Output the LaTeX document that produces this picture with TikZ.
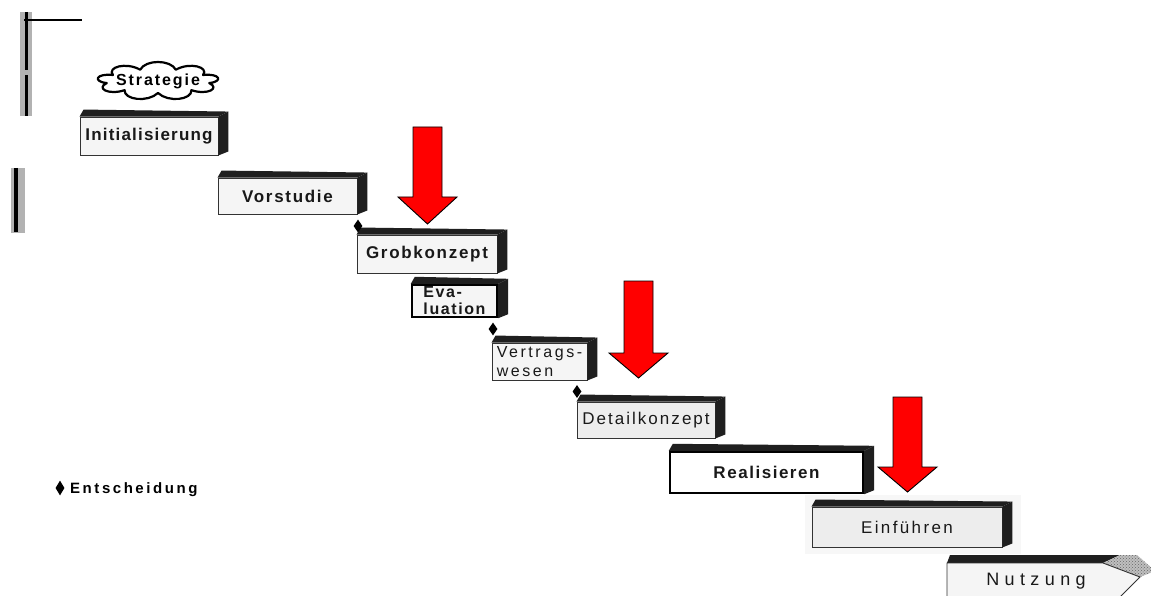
\documentclass[tikz,border=0pt]{standalone}
\usepackage{fontspec}
\setmainfont{Liberation Sans}
\usetikzlibrary{shapes.geometric,patterns}

\tikzset{
  front/.style={draw=black!80, line width=0.9pt, fill=black!4, inner sep=0pt, text=black!90},
  heavy/.style={draw=black, line width=2.4pt},
  topface/.style={fill=black!88},
  bf/.style={font=\fontsize{17}{18}\selectfont\bfseries\addfontfeature{LetterSpace=#1}},
  bfs/.style={font=\fontsize{16}{17}\selectfont\bfseries\addfontfeature{LetterSpace=#1}},
  rg/.style={font=\fontsize{17}{18}\selectfont\addfontfeature{LetterSpace=#1}},
  rgs/.style={font=\fontsize{16}{18.5}\selectfont\addfontfeature{LetterSpace=#1}},
  dia/.style={diamond, fill=black, inner sep=0pt, minimum width=9pt, minimum height=13pt},
  redarrow/.style={fill=red, draw=black, line width=0.9pt, line join=miter},
  scan/.style={fill=black!30},
  scanline/.style={draw=black, line width=3pt},
  cloudline/.style={draw=black, line width=2.2pt, fill=white, line join=round},
}

\newcommand\boxfaces[1]{%
  \fill[topface] (#1.north west) -- ++(4,-7) -- ([shift={(10,-5)}]#1.north east) -- (#1.north east) -- cycle;
  \fill[topface] (#1.north east) -- ([shift={(10,-5)}]#1.north east) -- ([shift={(10,-4)}]#1.south east) -- (#1.south east) -- cycle;}

\begin{document}
\begin{tikzpicture}[x=1pt,y=-1pt]
\useasboundingbox (0,0) rectangle (1151,596);
\clip (0,0) rectangle (1151,596);
\fill[white] (0,0) rectangle (1151,596);

% scanner marks at the left edge
\fill[scan] (20,12) rectangle (32,116);
\draw[scanline] (26,12) -- (26,70);
\draw[scanline] (26,75) -- (26,116);
\draw[line width=2pt] (24,20) -- (82,20);
\fill[scan] (11,168) rectangle (25,233);
\draw[line width=4pt] (16,168) -- (16,232);

% light background patch around Einfuehren
\fill[black!3] (805,495) rectangle (1021,554);

% Strategie cloud
\draw[cloudline] ({158+52*cos(10)},{81+12*sin(10)})
  \foreach \a in {10,50,...,330} {
    .. controls ({158+66*cos(\a+9)},{81+22*sin(\a+9)}) and ({158+66*cos(\a+31)},{81+22*sin(\a+31)}) ..
    ({158+52*cos(\a+40)},{81+12*sin(\a+40)})
  } -- cycle;
\node[bfs=12, inner sep=0pt] (strat) at (158,81) {Strategie};

% steps
\node[front, bf=7, minimum width=138pt, minimum height=38pt] (ini) at (149,136) {Initialisierung};
\boxfaces{ini}
\node[front, bf=10, minimum width=139pt, minimum height=36pt] (vor) at (287.5,196) {Vorstudie};
\boxfaces{vor}
\node[front, bf=10, minimum width=140pt, minimum height=38pt] (grob) at (427,254) {Grobkonzept};
\boxfaces{grob}
\node[front, heavy, bfs=10, align=left, minimum width=85pt, minimum height=32pt] (eva) at (454.5,301) {Eva-\\luation};
\boxfaces{eva}
\node[front, rgs=16, align=left, minimum width=95pt, minimum height=37pt] (vert) at (539.5,361.5) {Vertrags-\\wesen};
\boxfaces{vert}
\node[front, fill=black!7, rg=12, minimum width=138pt, minimum height=36pt] (det) at (646,420) {Detailkonzept};
\boxfaces{det}
\node[front, heavy, fill=white, bf=9, minimum width=193pt, minimum height=41pt] (real) at (766.5,472.5) {Realisieren};
\boxfaces{real}
\node[front, fill=black!7, rg=14, minimum width=190pt, minimum height=40pt] (ein) at (907,527) {Einführen\hspace{30pt}};
\boxfaces{ein}

% Nutzung (arrow-ended box, cut by the lower edge)
\fill[topface] (950,555) -- (1120,555) -- (1103,563) -- (947,563) -- cycle;
\fill[black!25] (1103,563) -- (1120,555) -- (1137,555) -- (1155,571) -- (1140,577) -- cycle;
\fill[pattern=crosshatch dots, pattern color=black!60] (1103,563) -- (1120,555) -- (1137,555) -- (1155,571) -- (1140,577) -- cycle;
\draw[black!80, line width=0.9pt, fill=black!4] (947,605) -- (947,563) -- (1103,563) -- (1140,577) -- (1112,605);
\node[font=\fontsize{18}{20}\selectfont\addfontfeature{LetterSpace=30}, text=black!90] (nutz) at (1036,581) {Nutzung};

% decision diamonds
\node[dia] (d1) at (358,226) {};
\node[dia] (d2) at (493,329) {};
\node[dia] (d3) at (577,391.5) {};

% legend
\node[dia, minimum width=9pt, minimum height=15pt] (leg) at (60,488) {};
\node[anchor=base west, font=\fontsize{15}{16}\selectfont\bfseries\addfontfeature{LetterSpace=17}, inner sep=0pt] (ent) at (70,493) {Entscheidung};

% red arrows
\draw[redarrow] (413,127) -- (442,127) -- (442,197) -- (457,197) -- (427.5,224) -- (398,197) -- (413,197) -- cycle;
\draw[redarrow] (624,281) -- (653,281) -- (653,353) -- (668,353) -- (638.5,378) -- (609,353) -- (624,353) -- cycle;
\draw[redarrow] (893,397) -- (922,397) -- (922,467) -- (937,467) -- (907.5,492) -- (878,467) -- (893,467) -- cycle;
\end{tikzpicture}
\end{document}
